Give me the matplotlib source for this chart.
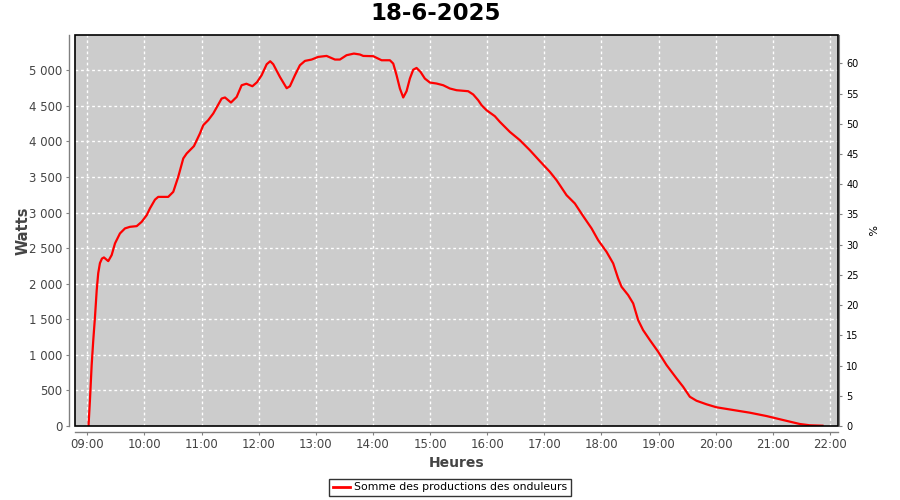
import matplotlib
matplotlib.use("Agg")
import matplotlib.pyplot as plt
from matplotlib.patches import Rectangle
from matplotlib.ticker import FuncFormatter, MultipleLocator
from matplotlib.lines import Line2D

title = "18-6-2025"
series_name = "Somme des productions des onduleurs"

# time in minutes since midnight, power in watts
minutes = [541.3, 542.8, 544.6, 546.3, 548.1, 549.9, 551.5, 553.3, 555.4, 557.5,
           562.0, 565.6, 569.1, 574.3, 579.6, 584.8, 591.9, 597.1, 602.4, 605.8,
           611.1, 614.5, 625.0, 630.3, 635.5, 640.8, 644.4, 652.0, 658.3, 661.8,
           667.0, 672.3, 681.1, 684.6, 690.9, 696.9, 702.1, 707.1, 713.4, 718.2,
           723.1, 728.4, 732.1, 735.3, 742.3, 749.4, 752.8, 758.1, 763.3, 768.6,
           775.6, 782.5, 791.3, 800.1, 805.3, 812.3, 820.0, 826.3, 829.8, 840.3,
           849.1, 857.8, 861.3, 864.8, 868.3, 871.8, 875.3, 878.8, 882.3, 885.8,
           890.0, 894.5, 899.8, 906.8, 913.8, 920.8, 927.8, 940.0, 945.3, 950.5,
           954.1, 959.3, 968.0, 973.3, 983.8, 994.3, 1004.8, 1015.3, 1025.8, 1032.8,
           1043.3, 1052.0, 1060.8, 1069.6, 1076.5, 1085.3, 1092.3, 1097.5, 1101.1, 1108.0,
           1113.3, 1118.5, 1123.7, 1130.8, 1139.5, 1148.3, 1158.8, 1165.7, 1172.8, 1179.8,
           1190.3, 1200.8, 1218.2, 1235.8, 1253.3, 1270.7, 1288.3, 1298.8, 1312.1]
watts = [0, 365, 857, 1208, 1535, 1910, 2149, 2289, 2353, 2369,
         2317, 2402, 2566, 2706, 2777, 2799, 2809, 2869, 2963, 3058,
         3181, 3220, 3220, 3291, 3501, 3760, 3830, 3933, 4111, 4228,
         4298, 4392, 4602, 4617, 4546, 4625, 4789, 4810, 4775, 4831,
         4930, 5084, 5126, 5084, 4906, 4747, 4775, 4930, 5070, 5131,
         5150, 5187, 5201, 5150, 5150, 5211, 5234, 5221, 5201, 5197,
         5140, 5140, 5094, 4930, 4743, 4617, 4705, 4883, 5007, 5032,
         4976, 4883, 4827, 4813, 4789, 4743, 4719, 4705, 4659, 4579,
         4508, 4438, 4354, 4274, 4133, 4017, 3876, 3722, 3572, 3455,
         3244, 3128, 2949, 2777, 2612, 2448, 2285, 2074, 1956, 1840,
         1723, 1489, 1348, 1208, 1044, 857, 670, 552, 411, 355,
         305, 263, 225, 187, 140, 84, 28, 10, 4]

hour_ticks = list(range(9, 23))
hour_labels = [f"{h:02d}:00" for h in hour_ticks]

hours = [m / 60.0 for m in minutes]

fig = plt.figure(figsize=(9, 5), dpi=100)
ax = fig.add_axes([75/900, 1 - 426/500, (838 - 75)/900, (426 - 35)/500])
ax.set_facecolor("#cccccc")

ax.plot(hours, watts, color="#ff0000", lw=1.6, solid_joinstyle="round", zorder=3)

ax.set_xlim(8 + 47.1/60, 22 + 8.4/60)
ax.set_ylim(0, 5495)

ax.set_xticks(hour_ticks)
ax.set_xticklabels(hour_labels)
ax.yaxis.set_major_locator(MultipleLocator(500))
ax.yaxis.set_major_formatter(FuncFormatter(lambda v, p: f"{int(v):,}".replace(",", " ")))

ax.grid(True, color="white", lw=1.0, linestyle=(0, (2, 2)))
ax.set_axisbelow(True)

for s in ["top", "right"]:
    ax.spines[s].set_visible(False)
for s in ["left", "bottom"]:
    ax.spines[s].set_position(("outward", 4))
    ax.spines[s].set_color("#808080")
    ax.spines[s].set_linewidth(1.0)

ax.tick_params(axis="both", direction="out", length=2, width=0.8, color="#808080",
               labelcolor="#444444", labelsize=8.5, pad=3)

ax.add_patch(Rectangle((0, 0), 1, 1, transform=ax.transAxes, fill=False,
                       ec="black", lw=1.2, clip_on=False, zorder=5))

ax.set_ylabel("Watts", fontsize=10.5, fontweight="bold", color="#444444", labelpad=-1)
ax.set_xlabel("Heures", fontsize=10, fontweight="bold", color="#444444", labelpad=3)

ax2 = ax.twinx()
ax2.set_ylim(0, 64.7)
ax2.yaxis.set_major_locator(MultipleLocator(5))
for s in ["top", "left", "bottom"]:
    ax2.spines[s].set_visible(False)
ax2.spines["right"].set_position(("outward", 1))
ax2.spines["right"].set_color("#808080")
ax2.tick_params(axis="y", direction="out", length=2, width=0.8, color="#808080",
                labelcolor="black", labelsize=7, pad=3)
ax2.set_ylabel("%", fontsize=8, color="black", rotation=-90, labelpad=12)

fig.text(436/900, 1 - 14/500, title, ha="center", va="center", fontsize=16.5,
         fontweight="bold", color="black")

handle = Line2D([], [], color="#ff0000", lw=2)
leg = fig.legend([handle], [series_name], loc="center", bbox_to_anchor=(450/900, 1 - 487.5/500),
                 frameon=True, fancybox=False, edgecolor="black", fontsize=7.8,
                 handlelength=1.6, handletextpad=0.3, borderpad=0.35, borderaxespad=0)
leg.get_frame().set_linewidth(1.0)

fig.savefig("out.png", dpi=100)
